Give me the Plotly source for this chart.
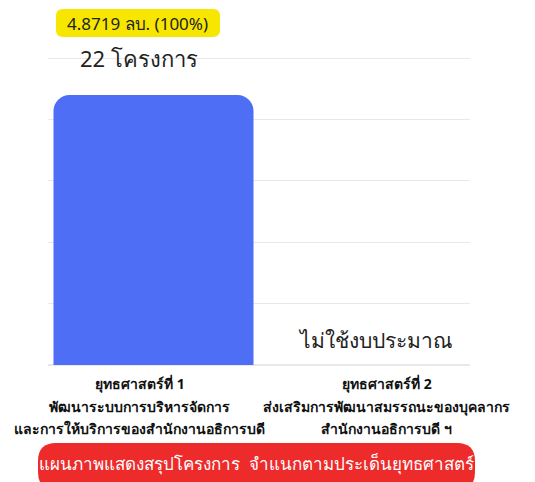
import plotly.graph_objects as go

categories = ["ยุทธศาสตร์ที่ 1", "ยุทธศาสตร์ที่ 2"]
label_lines = [
    ["ยุทธศาสตร์ที่ 1", "พัฒนาระบบการบริหารจัดการ", "และการให้บริการของสำนักงานอธิการบดี"],
    ["ยุทธศาสตร์ที่ 2", "ส่งเสริมการพัฒนาสมรรถนะของบุคลากร", "สำนักงานอธิการบดี ฯ"],
]
projects = [22, 0]
bar_texts = ["22 โครงการ", "ไม่ใช้งบประมาณ"]
budget_label = "4.8719 ลบ. (100%)"
title_text = "แผนภาพแสดงสรุปโครงการ  จำแนกตามประเด็นยุทธศาสตร์"

W, H = 535, 482
L, R, T, B = 48, 65, 52, 117
PW, PH = W - L - R, H - T - B
FONT = "Noto Sans, sans-serif"


def px(x):
    return (x - L) / PW


def py(y):
    return (H - B - y) / PH


def rounded(x0, y0, x1, y1, r):
    def P(x, y):
        return f"{px(x):.5f},{py(y):.5f}"
    return (f"M {P(x0 + r, y0)} L {P(x1 - r, y0)} Q {P(x1, y0)} {P(x1, y0 + r)} "
            f"L {P(x1, y1 - r)} Q {P(x1, y1)} {P(x1 - r, y1)} L {P(x0 + r, y1)} "
            f"Q {P(x0, y1)} {P(x0, y1 - r)} L {P(x0, y0 + r)} Q {P(x0, y0)} {P(x0 + r, y0)} Z")


fig = go.Figure()
fig.add_trace(go.Bar(
    x=categories, y=projects,
    marker=dict(color="#4f6ef6", cornerradius=16, line=dict(width=0)),
    hoverinfo="skip",
))

shapes = [
    dict(type="path", xref="paper", yref="paper", path=rounded(56, 9, 220, 37, 7),
         fillcolor="#f7e600", line=dict(width=0), layer="above"),
    dict(type="path", xref="paper", yref="paper", path=rounded(38, 443, 475, 490, 18),
         fillcolor="#ee2b2b", line=dict(width=0), layer="above"),
]

C = dict(xanchor="center", yanchor="middle", showarrow=False)
annotations = [
    dict(x=px(137), y=py(23), xref="paper", yref="paper", text=budget_label,
         font=dict(size=17, color="#222", family=FONT), **C),
    dict(x=categories[0], y=25, xref="x", yref="y", text=bar_texts[0], xshift=-15,
         font=dict(size=22, color="#222", family=FONT), **C),
    dict(x=categories[1], y=projects[1], xref="x", yref="y", text=bar_texts[1], xshift=10,
         yshift=25, font=dict(size=21, color="#222", family=FONT), **C),
    dict(x=px(256), y=py(463), xref="paper", yref="paper", text=title_text,
         font=dict(size=17, color="white", family=FONT), **C),
]
line_y = [383, 406, 428]
shifts = [-14, 22]
for ci, lines in enumerate(label_lines):
    for li, t in enumerate(lines):
        annotations.append(dict(
            x=categories[ci], y=py(line_y[li]), xref="x", yref="paper", text=f"<b>{t}</b>",
            xshift=shifts[ci], font=dict(size=14, color="#111", family=FONT), **C))

fig.update_layout(
    width=W, height=H,
    margin=dict(l=L, r=R, t=T, b=B),
    paper_bgcolor="white", plot_bgcolor="white",
    showlegend=False, bargap=0.052,
    xaxis=dict(range=[-0.5, 1.5], showticklabels=False, showgrid=False, zeroline=False,
               showline=False),
    yaxis=dict(range=[0, 25.5], tickvals=[0, 5, 10, 15, 20, 25], showticklabels=False,
               showgrid=True, gridcolor="#e8e8e8", gridwidth=1, zeroline=True,
               zerolinecolor="#e8e8e8", showline=False),
    shapes=shapes, annotations=annotations,
)

fig.write_html("out.html", config={"displayModeBar": False},
               post_script="document.body.style.margin='0';")
